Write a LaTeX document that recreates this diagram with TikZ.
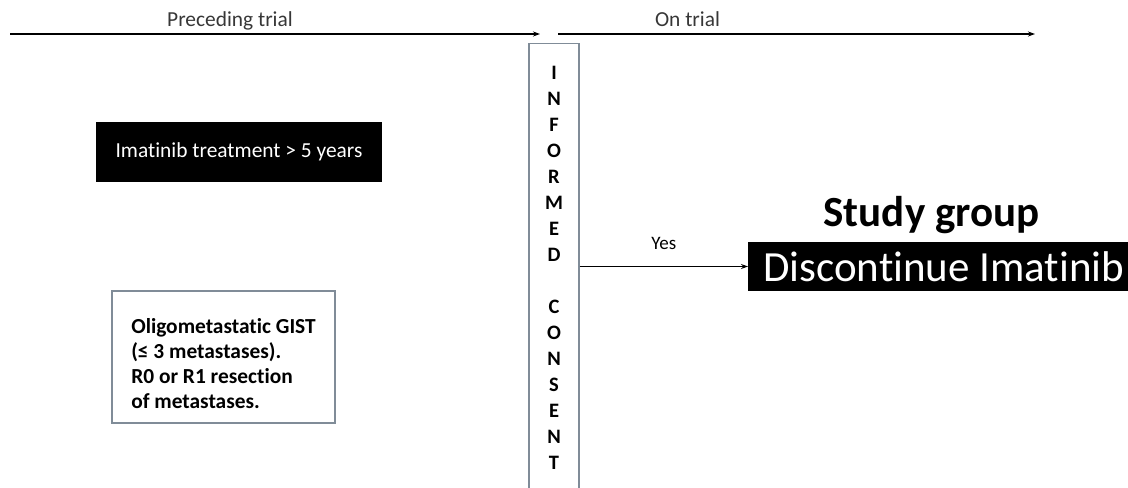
\documentclass[tikz,border=0pt]{standalone}
\usepackage{fontspec}
\setmainfont{Carlito}[Ligatures=CommonOff]
\usetikzlibrary{positioning, arrows.meta}
\definecolor{framegray}{RGB}{128,140,152}
\definecolor{textgray}{RGB}{55,55,55}
\newcommand{\bodysize}{\fontsize{21.4bp}{25bp}\selectfont}
\newcommand{\bigsize}{\fontsize{43bp}{48bp}\selectfont}
\tikzset{
	arrowline/.style={draw=black, line width=1.1bp, -{Stealth[length=7bp,width=5bp]}},
	blackbox/.style={fill=black, text=white, inner sep=0pt},
	framebox/.style={draw=framegray, line width=1.2bp, inner sep=0pt},
}

\begin{document}
\begin{tikzpicture}[x=1bp, y=-1bp, font=\bodysize]
	\useasboundingbox (0,0) rectangle (1128,488);
	\clip (0,0) rectangle (1128,488);
	% time axis
	\coordinate (pre start) at (10,34);
	\coordinate (pre end) at (540,34);
	\coordinate (on start) at (558,34);
	\coordinate (on end) at (1035,34);
	\draw[arrowline] (pre start) -- (pre end);
	\draw[arrowline] (on start) -- (on end);
	\node[anchor=base, text=textgray] at (230,27) (pre) {Preceding trial};
	\node[anchor=base, text=textgray] at (687.5,27) (on) {On trial};

	% consent column
	\node[framebox, anchor=north, minimum width=50bp, minimum height=449bp, align=center, font=\fontsize{20.5bp}{26bp}\selectfont\bfseries] at (554,43) (consent) {I\\N\\F\\O\\R\\M\\E\\D\\[26bp]C\\O\\N\\S\\E\\N\\T};

	% preceding trial
	\node[blackbox, minimum width=286bp, minimum height=60bp] at (239,152) (imatinib) {Imatinib treatment > 5 years};
	\node[framebox, minimum width=223bp, minimum height=132bp, align=left, font=\fontsize{21.4bp}{25bp}\selectfont\bfseries] at (223.5,357) (oligo) {\rule{0pt}{29bp}Oligometastatic GIST\\(≤ 3 metastases).\\R0 or R1 resection\\of metastases.};

	% on trial
	\node[blackbox, anchor=west, minimum height=49bp, inner xsep=15bp, font=\bigsize] at (748,266.5) (disc) {Discontinue Imatinib};
	\node[anchor=base, font=\bigsize\bfseries] at (931.5,227) (study) {Study group};
	\draw[arrowline] (consent.east |- disc.west) -- node[above=13bp, font=\fontsize{19bp}{22bp}\selectfont] (yes) {Yes} (disc.west);
\end{tikzpicture}
\end{document}
